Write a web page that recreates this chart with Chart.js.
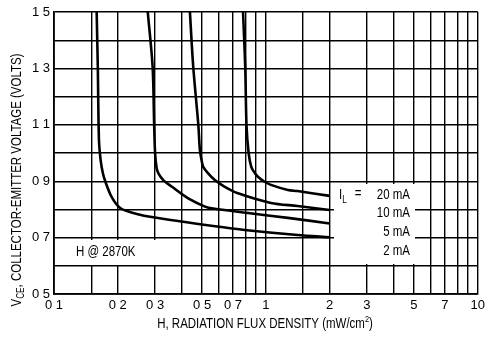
<!DOCTYPE html>
<html>
<head>
<meta charset="utf-8">
<script src="https://cdn.jsdelivr.net/npm/chart.js@4"></script>
<style>
  html, body { margin: 0; padding: 0; background: #fff; }
  canvas { display: block; }
</style>
</head>
<body>
<canvas id="c" width="489" height="344"></canvas>
<script>
// radiation flux H (mW/cm2) and VCE (volts)
const flux2mA = [0.159, 0.161, 0.163, 0.166, 0.170, 0.175, 0.185, 0.195, 0.206, 0.221, 0.246, 0.284, 0.408, 0.564, 0.794, 1.41, 2.0];
const vce2mA = [1.5, 1.3, 1.046, 0.975, 0.929, 0.897, 0.851, 0.823, 0.804, 0.794, 0.784, 0.774, 0.756, 0.741, 0.727, 0.709, 0.701];

const flux5mA = [0.277, 0.292, 0.297, 0.300, 0.305, 0.311, 0.328, 0.359, 0.430, 0.516, 0.564, 0.823, 1.27, 2.0];
const vce5mA = [1.5, 1.306, 1.099, 1.0, 0.947, 0.928, 0.904, 0.881, 0.839, 0.810, 0.803, 0.787, 0.770, 0.750];

const flux10mA = [0.438, 0.454, 0.480, 0.488, 0.497, 0.506, 0.534, 0.574, 0.640, 0.739, 1.056, 1.41, 2.0];
const vce10mA = [1.5, 1.306, 1.099, 1.011, 0.975, 0.951, 0.928, 0.904, 0.880, 0.857, 0.823, 0.812, 0.798];

const flux20mA = [0.780, 0.799, 0.810, 0.829, 0.853, 0.885, 0.917, 0.986, 1.056, 1.27, 1.41, 2.0];
const vce20mA = [1.5, 1.306, 1.099, 1.0, 0.951, 0.930, 0.916, 0.898, 0.887, 0.869, 0.865, 0.848];

const seriesNames = ['2 mA', '5 mA', '10 mA', '20 mA'];

// grid and tick labels
const xGrid = [0.1, 0.15, 0.2, 0.3, 0.4, 0.5, 0.6, 0.7, 0.8, 0.9, 1, 1.5, 2, 3, 4, 5, 6, 7, 8, 9, 10];
const xTickValues = [0.1, 0.2, 0.3, 0.5, 0.7, 1, 2, 3, 5, 7, 10];
const xTickText = ['0 1', '0 2', '0 3', '0 5', '0 7', '1', '2', '3', '5', '7', '10'];
const yTickValues = [0.5, 0.7, 0.9, 1.1, 1.3, 1.5];
const yTickText = ['0 5', '0 7', '0 9', '1 1', '1 3', '1 5'];

const FONT = '"Liberation Sans", Arial, sans-serif';
const SQUEEZE = 0.82;

const zip = (xs, ys) => xs.map((x, i) => ({ x: x, y: ys[i] }));

const makeSet = (label, xs, ys) => ({
  label: label,
  data: zip(xs, ys),
  borderColor: '#000',
  borderWidth: 2.6,
  pointRadius: 0,
  fill: false,
  tension: 0.3,
});

// draws a list of runs [text, size, dy] squeezed horizontally
function runs(ctx, parts, x, y, align, squeeze) {
  let total = 0;
  parts.forEach(p => {
    ctx.font = p[1] + 'px ' + FONT;
    p.w = ctx.measureText(p[0]).width;
    total += p.w;
  });
  total *= squeeze;
  let start = x;
  if (align === 'center') start = x - total / 2;
  if (align === 'right') start = x - total;
  ctx.save();
  ctx.translate(start, y);
  ctx.scale(squeeze, 1);
  ctx.textAlign = 'left';
  let cx = 0;
  parts.forEach(p => {
    ctx.font = p[1] + 'px ' + FONT;
    ctx.fillText(p[0], cx, p[2] || 0);
    cx += p.w;
  });
  ctx.restore();
}

// white patches behind the annotations, then the text itself
const notes = {
  id: 'notes',
  beforeDatasetsDraw(chart) {
    const ctx = chart.ctx;
    ctx.save();
    ctx.fillStyle = '#fff';
    ctx.fillRect(334, 184, 81, 80);
    ctx.fillRect(56, 240, 100, 25);
    ctx.restore();
  },
  afterDraw(chart) {
    const ctx = chart.ctx;
    ctx.save();
    ctx.fillStyle = '#000';
    ctx.textBaseline = 'middle';

    // curve labels
    runs(ctx, [['I', 14], ['L', 10, 5]], 339, 195, 'left', SQUEEZE);
    runs(ctx, [['=', 14]], 358, 194, 'center', SQUEEZE);
    runs(ctx, [['20 mA', 14]], 410, 195, 'right', SQUEEZE);
    runs(ctx, [['10 mA', 14]], 410, 213, 'right', SQUEEZE);
    runs(ctx, [['5 mA', 14]], 410, 232, 'right', SQUEEZE);
    runs(ctx, [['2 mA', 14]], 410, 251, 'right', SQUEEZE);

    runs(ctx, [['H @ 2870K', 14]], 76, 252, 'left', SQUEEZE);

    // axis titles
    runs(ctx, [['H, RADIATION FLUX DENSITY (mW/cm', 14], ['2', 9, -4], [')', 14]], 265, 324, 'center', SQUEEZE);

    ctx.translate(17, 180);
    ctx.rotate(-Math.PI / 2);
    runs(ctx, [['V', 14], ['CE', 10, 4], [', COLLECTOR-EMITTER VOLTAGE (VOLTS)', 14]], 0, 0, 'center', SQUEEZE);
    ctx.restore();
  }
};

new Chart(document.getElementById('c'), {
  type: 'line',
  data: {
    datasets: [
      makeSet(seriesNames[0], flux2mA, vce2mA),
      makeSet(seriesNames[1], flux5mA, vce5mA),
      makeSet(seriesNames[2], flux10mA, vce10mA),
      makeSet(seriesNames[3], flux20mA, vce20mA),
    ],
  },
  options: {
    responsive: false,
    animation: false,
    layout: { padding: { top: 12, right: 8, left: 0, bottom: 0 } },
    plugins: { legend: { display: false }, tooltip: { enabled: false } },
    scales: {
      x: {
        type: 'logarithmic',
        min: 0.1,
        max: 10,
        afterBuildTicks: (scale) => { scale.ticks = xGrid.map(v => ({ value: v })); },
        afterFit: (scale) => { scale.height = 50; },
        grid: { color: '#000', lineWidth: 1.4, drawTicks: false },
        border: { color: '#000', width: 1.8 },
        ticks: {
          autoSkip: false,
          maxRotation: 0,
          padding: 4,
          color: '#000',
          font: { family: FONT, size: 13 },
          callback: (value) => {
            const i = xTickValues.findIndex(v => Math.abs(v - value) < 1e-6);
            return i >= 0 ? xTickText[i] : '';
          },
        },
      },
      y: {
        type: 'linear',
        min: 0.5,
        max: 1.5,
        afterFit: (scale) => { scale.width = 54; },
        grid: { color: '#000', lineWidth: 1.4, drawTicks: false },
        border: { color: '#000', width: 1.8 },
        ticks: {
          stepSize: 0.1,
          padding: 4,
          color: '#000',
          font: { family: FONT, size: 13 },
          callback: (value) => {
            const i = yTickValues.findIndex(v => Math.abs(v - value) < 1e-6);
            return i >= 0 ? yTickText[i] : '';
          },
        },
      },
    },
  },
  plugins: [notes],
});
</script>
</body>
</html>
